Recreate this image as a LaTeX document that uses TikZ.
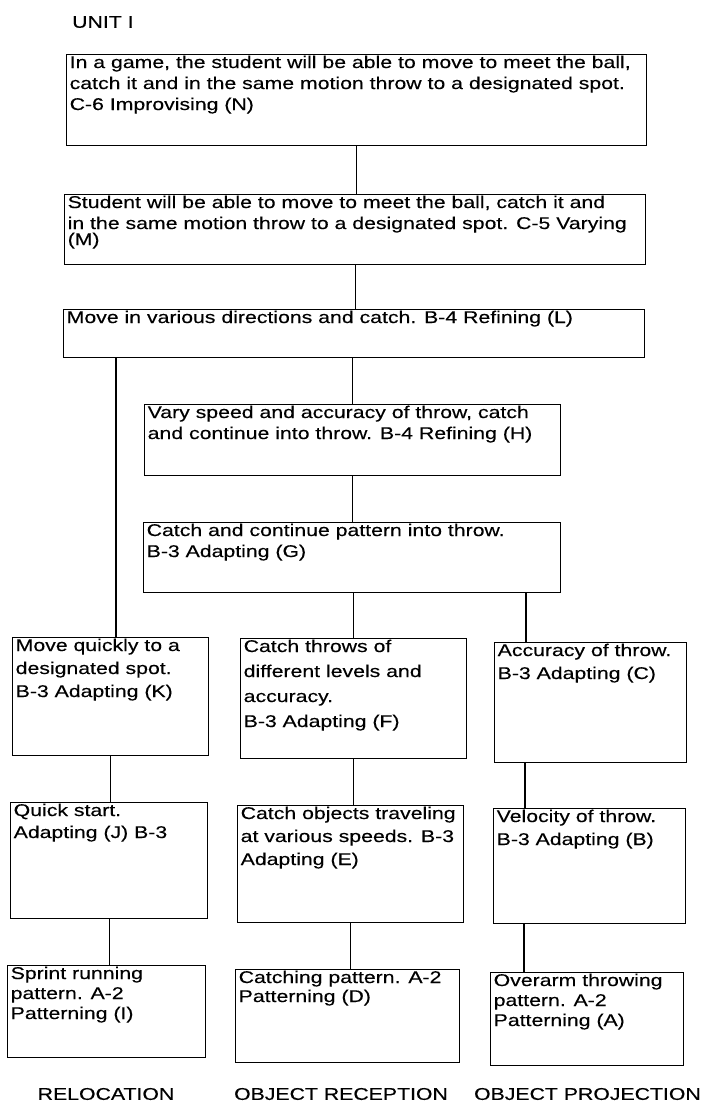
\documentclass[tikz,border=0pt]{standalone}
\usepackage{fontspec}
\setmainfont{Liberation Sans}[FakeStretch=1.25,FakeBold=0.3]
\usetikzlibrary{calc}

% \flowbox[baselineskip]{name}{x1}{y1}{x2}{y2}{lines}
\newcommand\flowbox[7][21]{%
  \node[box] (#2) at (#3,#4) {%
    \begin{minipage}[t][\dimexpr #6pt-#4pt\relax][t]{\dimexpr #5pt-#3pt-6pt\relax}%
      \fontsize{17}{#1}\selectfont\raggedright\vspace*{1pt}#7%
    \end{minipage}};}

\begin{document}
\begin{tikzpicture}[x=1pt,y=-1pt,
  box/.style={draw, line width=1.4pt, inner xsep=3pt, inner ysep=0pt, anchor=north west},
  link/.style={line width=1.4pt},
  caption/.style={font=\fontsize{17}{21}\selectfont, inner sep=0pt}]
\useasboundingbox (0,0) rectangle (702,1116);

\node[caption, anchor=west] (unit) at (72,22) {UNIT I};

\flowbox{N}{66}{54}{646}{145}{\mbox{In a game, the student will be able to move to meet the ball,}\\
  \mbox{catch it and in the same motion throw to a designated spot.}\\
  \mbox{C-6 Improvising (N)}}
\flowbox{M}{64}{194}{645}{264}{\mbox{Student will be able to move to meet the ball, catch it and}\\
  \mbox{in the same motion throw to a designated spot. C-5 Varying}\\[-5pt]
  \mbox{(M)}}
\flowbox{L}{63}{309}{644}{357}{\mbox{Move in various directions and catch. B-4 Refining (L)}}
\flowbox{H}{144}{404}{560}{475}{\mbox{Vary speed and accuracy of throw, catch}\\
  \mbox{and continue into throw. B-4 Refining (H)}}
\flowbox{G}{143}{522}{560}{592}{\mbox{Catch and continue pattern into throw.}\\
  \mbox{B-3 Adapting (G)}}

\flowbox[23]{K}{12}{637}{208}{755}{\mbox{Move quickly to a}\\\mbox{designated spot.}\\\mbox{B-3 Adapting (K)}}
\flowbox[25]{F}{240}{638}{466}{758}{\mbox{Catch throws of}\\\mbox{different levels and}\\\mbox{accuracy.}\\\mbox{B-3 Adapting (F)}}
\flowbox[23]{C}{494}{642}{686}{762}{\mbox{Accuracy of throw.}\\\mbox{B-3 Adapting (C)}}

\flowbox[22]{J}{10}{802}{207}{918}{\mbox{Quick start.}\\\mbox{Adapting (J) B-3}}
\flowbox[23]{E}{237}{805}{463}{922}{\mbox{Catch objects traveling}\\\mbox{at various speeds. B-3}\\\mbox{Adapting (E)}}
\flowbox[23]{B}{493}{808}{685}{923}{\mbox{Velocity of throw.}\\\mbox{B-3 Adapting (B)}}

\flowbox[20]{I}{7}{965}{205}{1057}{\mbox{Sprint running}\\\mbox{pattern. A-2}\\\mbox{Patterning (I)}}
\flowbox[19]{D}{235}{969}{459}{1062}{\mbox{Catching pattern. A-2}\\\mbox{Patterning (D)}}
\flowbox[20]{A}{490}{972}{683}{1065}{\mbox{Overarm throwing}\\\mbox{pattern. A-2}\\\mbox{Patterning (A)}}

% column headings under the bottom row
\node[caption] (reloc) at (106,1094) {RELOCATION};
\node[caption] (recep) at (341,1094) {OBJECT RECEPTION};
\node[caption, anchor=east] (proj) at (701,1094) {OBJECT PROJECTION};

% spine
\draw[link] (N.south) -- (N.south |- M.north);
\draw[link] (M.south) -- (M.south |- L.north);
\draw[link] (H.north) -- (H.north |- L.south);
\draw[link] (H.south) -- (H.south |- G.north);

% branches
\coordinate (kin) at ($(K.north west)+(104,0)$);
\draw[link] (kin) -- (kin |- L.south);
\draw[link] (F.north) -- (F.north |- G.south);
\coordinate (cin) at ($(C.north west)+(32,0)$);
\draw[link] (cin) -- (cin |- G.south);

% columns
\draw[link] (K.south) -- (K.south |- J.north);
\draw[link] (J.south) -- (J.south |- I.north);
\draw[link] (F.south) -- (F.south |- E.north);
\draw[link] (E.south) -- (E.south |- D.north);
\coordinate (cout) at ($(C.south west)+(31,0)$);
\draw[link] (cout) -- (cout |- B.north);
\coordinate (bout) at ($(B.south west)+(31,0)$);
\draw[link] (bout) -- (bout |- A.north);
\end{tikzpicture}
\end{document}
